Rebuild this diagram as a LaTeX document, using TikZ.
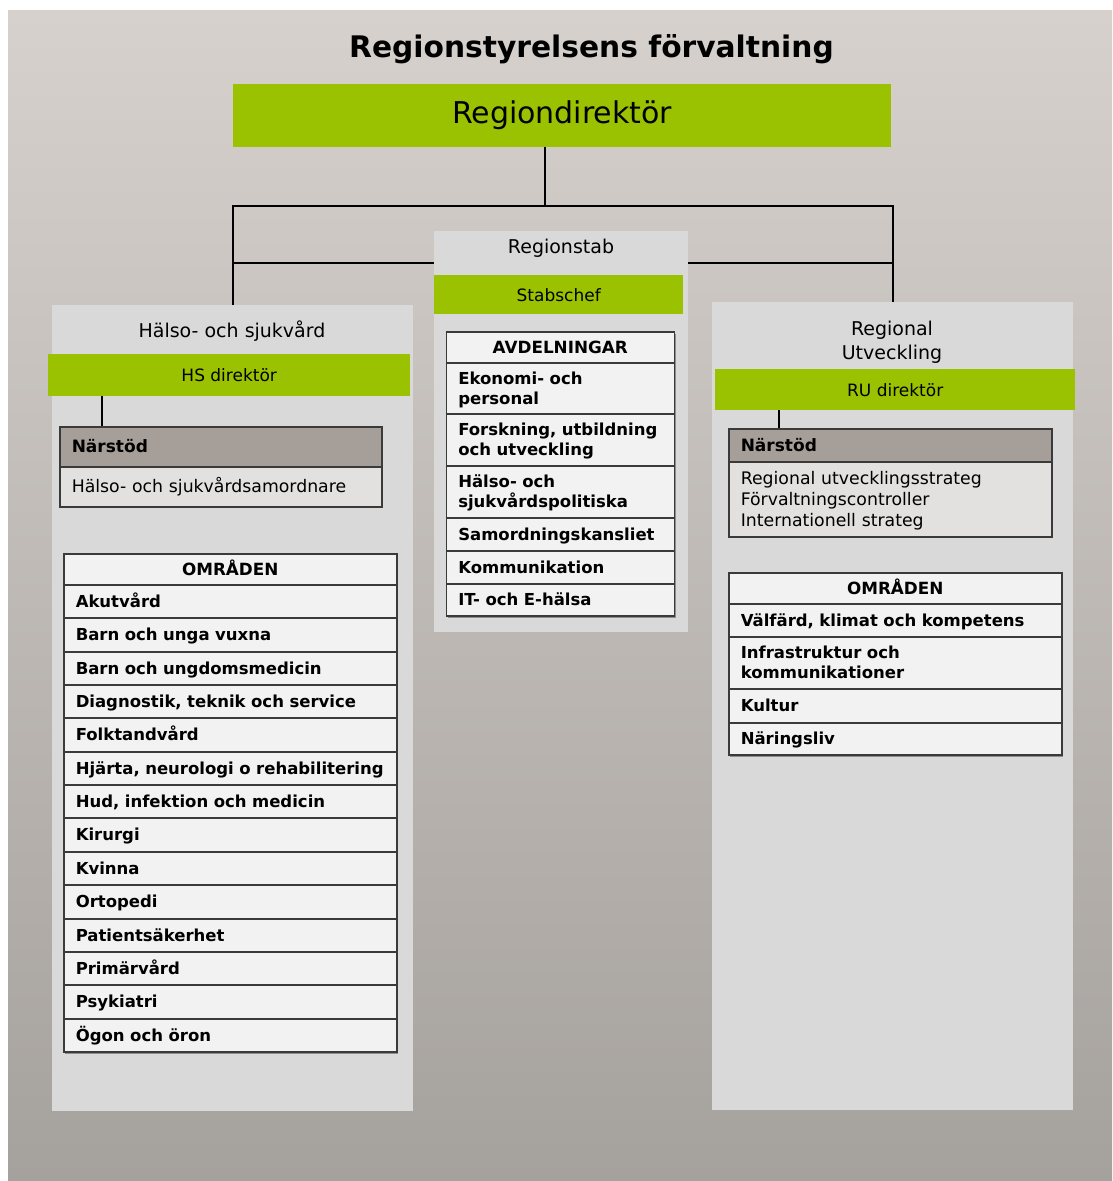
\documentclass[tikz,border=0pt]{standalone}
\usepackage{fontspec}
\setmainfont{DejaVu Sans}
\usetikzlibrary{shadows}
\definecolor{bgtop}{HTML}{D6D1CD}
\definecolor{bgbot}{HTML}{A5A19D}
\definecolor{panelgray}{HTML}{D9D9D9}
\definecolor{leaf}{HTML}{9BC200}
\definecolor{taupe}{HTML}{A69E98}
\definecolor{narbody}{HTML}{E3E1DF}
\definecolor{cellfill}{HTML}{F2F2F2}
\definecolor{tabline}{HTML}{3A3A3A}
\newcommand{\topstrut}{\rule{0pt}{16.2pt}}
\newcommand{\botstrut}{\rule[-4pt]{0pt}{4pt}}
\tikzset{
  conn/.style={draw=black, line width=2pt},
  panel/.style={fill=panelgray, draw=none, anchor=north west, inner sep=0pt},
  paneltitle/.style={align=center, font=\fontsize{19}{24}\selectfont},
  greenbar/.style={fill=leaf, draw=none, anchor=north west, inner sep=0pt, font=\fontsize{17}{20}\selectfont},
  strutted/.style={execute at begin node=\topstrut, execute at end node=\botstrut},
  cell/.style={draw=tabline, line width=1.5pt, fill=cellfill, anchor=north west,
    inner xsep=12pt, inner ysep=0pt, align=left, font=\bfseries\fontsize{16.5}{20}\selectfont,
    strutted,
    drop shadow={shadow xshift=1.5pt, shadow yshift=-2pt, opacity=0.35, fill=black}},
  cellhead/.style={cell, align=center, font=\bfseries\fontsize{16.8}{20}\selectfont},
  narhead/.style={draw=tabline, line width=1.5pt, fill=taupe, anchor=north west,
    inner xsep=12pt, inner ysep=0pt, align=left, font=\bfseries\fontsize{17}{20}\selectfont, strutted},
  narbox/.style={draw=tabline, line width=1.5pt, fill=narbody, anchor=north west,
    inner xsep=12pt, inner ysep=0pt, align=left, font=\fontsize{17.3}{20.7}\selectfont, strutted},
}
\begin{document}
\begin{tikzpicture}[x=1pt,y=-1pt]
\useasboundingbox (0,0) rectangle (1112,1181);
\fill[white] (0,0) rectangle (1112,1181);
\shade[top color=bgtop, bottom color=bgbot] (8,10) rectangle (1112,1181);

% title and director
\node[font=\bfseries\fontsize{29.7}{34}\selectfont] (title) at (591.5,49) {Regionstyrelsens förvaltning};
\node[fill=leaf, minimum width=658, minimum height=63, inner sep=0pt, anchor=north west,
      font=\fontsize{30}{34}\selectfont] (rd) at (233,84) {Regiondirektör};

% panels
\node[panel, minimum width=361, minimum height=806] (hs) at (52,305) {};
\node[panel, minimum width=254, minimum height=401] (rs) at (434,231) {};
\node[panel, minimum width=361, minimum height=808] (ru) at (712,302) {};

% connectors
\coordinate (bus) at (545,206);
\coordinate (tie) at (0,263);
\draw[conn] (bus |- rd.south) -- (bus);
\draw[conn] (hs.north) |- (bus) -| (ru.north);
\draw[conn] (hs.north |- tie) -- (rs.west |- tie);
\draw[conn] (rs.east |- tie) -- (ru.north |- tie);

% ---------- Hälso- och sjukvård ----------
\node[paneltitle] (hst) at (232,331) {Hälso- och sjukvård};
\node[greenbar, minimum width=362, minimum height=42] (hsd) at (48,354) {HS direktör};
\node[narhead, minimum height=40, text width=298] (nhs) at (59,426) {Närstöd};
\node[narbox, minimum height=40, text width=298] (nhsb) at (59,466) {Hälso- och sjukvårdsamordnare};
\coordinate (hsx) at ([xshift=43pt]nhs.north west);
\draw[conn] (hsx |- hsd.south) -- (hsx);

\node[cellhead, minimum height=31, text width=309] (hsh) at (63,553) {OMRÅDEN};
\foreach \t [count=\i] in {Akutvård, Barn och unga vuxna, Barn och ungdomsmedicin,
   {Diagnostik, teknik och service}, Folktandvård, {Hjärta, neurologi o rehabilitering},
   {Hud, infektion och medicin}, Kirurgi, Kvinna, Ortopedi, Patientsäkerhet,
   Primärvård, Psykiatri, Ögon och öron}{
  \pgfmathsetmacro{\ytop}{round(584+(\i-1)*33.357)}
  \pgfmathsetmacro{\hgt}{round(584+\i*33.357)-\ytop}
  \node[cell, minimum height=\hgt, text width=309] (hsr\i) at (63,\ytop) {\t};
}

% ---------- Regionstab ----------
\node[paneltitle] (rst) at (561,248) {Regionstab};
\node[greenbar, minimum width=249, minimum height=39] (rsd) at (434,275) {Stabschef};
\node[cellhead, minimum height=31, text width=204] (rsh) at (445.5,331) {AVDELNINGAR};
\node[cell, minimum height=51, text width=204] (rs1) at (445.5,362) {Ekonomi- och\\personal};
\node[cell, minimum height=52, text width=204] (rs2) at (445.5,413) {Forskning, utbildning\\och utveckling};
\node[cell, minimum height=52, text width=204] (rs3) at (445.5,465) {Hälso- och\\sjukvårdspolitiska};
\node[cell, minimum height=33, text width=204] (rs4) at (445.5,517) {Samordningskansliet};
\node[cell, minimum height=33, text width=204] (rs5) at (445.5,550) {Kommunikation};
\node[cell, minimum height=32, text width=204] (rs6) at (445.5,583) {IT- och E-hälsa};

% ---------- Regional Utveckling ----------
\node[paneltitle] (rut) at (892,342) {Regional\\Utveckling};
\node[greenbar, minimum width=360, minimum height=41] (rud) at (715,369) {RU direktör};
\node[narhead, minimum height=33, text width=299] (nru) at (728,428) {Närstöd};
\node[narbox, minimum height=75, text width=299] (nrub) at (728,461)
  {Regional utvecklingsstrateg\\Förvaltningscontroller\\Internationell strateg};
\coordinate (rux) at ([xshift=51pt]nru.north west);
\draw[conn] (rux |- rud.south) -- (rux);

\node[cellhead, minimum height=31, text width=309] (ruh) at (728,572) {OMRÅDEN};
\node[cell, minimum height=33, text width=309] (ru1) at (728,603) {Välfärd, klimat och kompetens};
\node[cell, minimum height=52, text width=309] (ru2) at (728,636) {Infrastruktur och\\kommunikationer};
\node[cell, minimum height=34, text width=309] (ru3) at (728,688) {Kultur};
\node[cell, minimum height=32, text width=309] (ru4) at (728,722) {Näringsliv};
\end{tikzpicture}
\end{document}
